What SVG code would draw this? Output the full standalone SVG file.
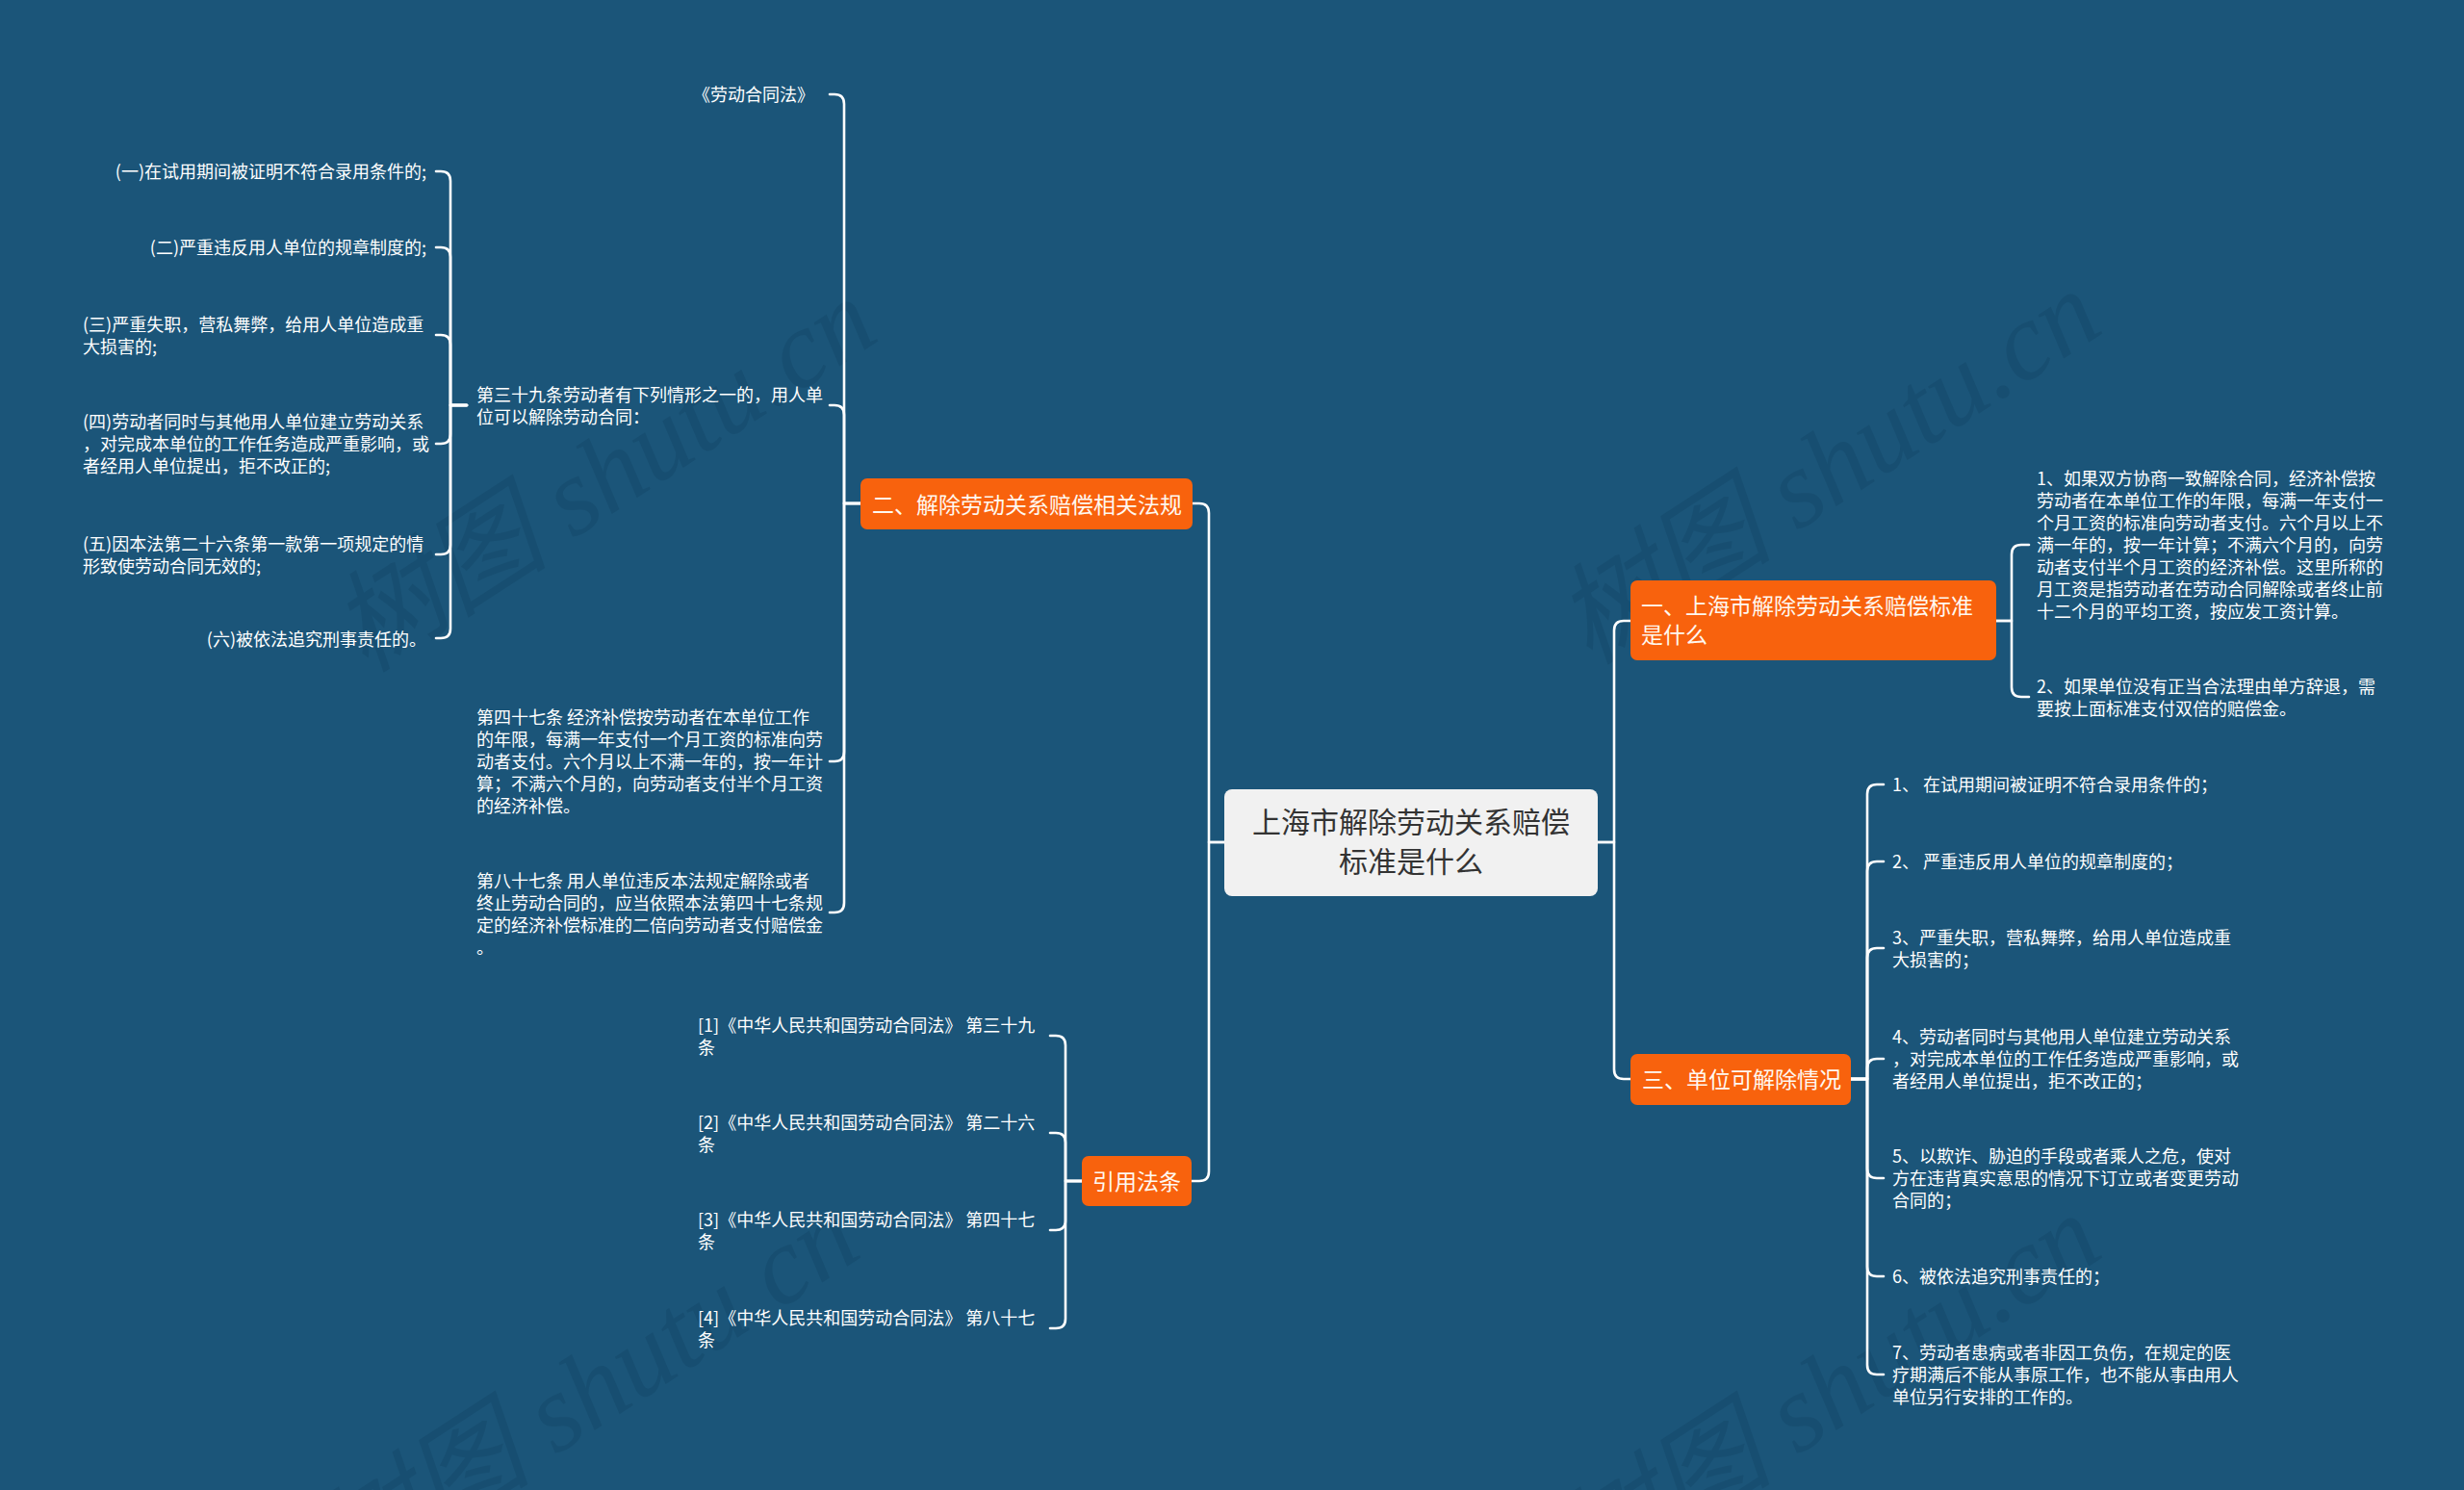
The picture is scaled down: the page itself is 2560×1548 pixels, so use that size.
<svg xmlns="http://www.w3.org/2000/svg" width="2560" height="1548" viewBox="0 0 2560 1548">
<style>
.bg{fill:#1b5579}
.wm{font-family:"Liberation Serif","Noto Sans CJK SC",serif;font-style:italic;font-size:114px;fill:#0a2a40;fill-opacity:0.15}
.conn{fill:none;stroke:#ffffff;stroke-width:2.6;stroke-linecap:round;stroke-linejoin:round}
.leaf{font-family:"Noto Sans CJK SC","Noto Sans",sans-serif;font-size:18px;fill:#ffffff}
.main rect{fill:#f8620d}
.main text{font-family:"Noto Sans CJK SC","Noto Sans",sans-serif;font-size:23px;fill:#fff8f0}
.root rect{fill:#f1f1f1}
.root text{font-family:"Noto Sans CJK SC","Noto Sans",sans-serif;font-size:30px;fill:#333333;text-anchor:middle}
</style>
<rect class="bg" x="0" y="0" width="2560" height="1548"/>
<g id="watermarks">
<text class="wm" transform="translate(380,700) rotate(-33)">树图 shutu.cn</text>
<text class="wm" transform="translate(1652,692) rotate(-33)">树图 shutu.cn</text>
<text class="wm" transform="translate(362,1652) rotate(-33)">树图 shutu.cn</text>
<text class="wm" transform="translate(1652,1652) rotate(-33)">树图 shutu.cn</text>
</g>
<g id="connectors">
<path class="conn" d="M1272,875 H1256 V533 Q1256,523 1246,523 H1239"/>
<path class="conn" d="M1272,875 H1256 V1217 Q1256,1227 1246,1227 H1238"/>
<path class="conn" d="M1660,875 H1677 V655 Q1677,645 1687,645 H1694"/>
<path class="conn" d="M1660,875 H1677 V1111 Q1677,1121 1687,1121 H1694"/>
<path class="conn" d="M894,523 H877 V108 Q877,98 867,98 H862"/>
<path class="conn" d="M894,523 H877 V431 Q877,421 867,421 H862"/>
<path class="conn" d="M894,523 H877 V781 Q877,791 867,791 H862"/>
<path class="conn" d="M894,523 H877 V938 Q877,948 867,948 H862"/>
<path class="conn" d="M485,421 H468 V188 Q468,178 458,178 H453"/>
<path class="conn" d="M485,421 H468 V267 Q468,257 458,257 H453"/>
<path class="conn" d="M485,421 H468 V358 Q468,348 458,348 H453"/>
<path class="conn" d="M485,421 H468 V451 Q468,461 458,461 H453"/>
<path class="conn" d="M485,421 H468 V566 Q468,576 458,576 H453"/>
<path class="conn" d="M485,421 H468 V653 Q468,663 458,663 H453"/>
<path class="conn" d="M2074,645 H2090 V576 Q2090,566 2100,566 H2108"/>
<path class="conn" d="M2074,645 H2090 V714 Q2090,724 2100,724 H2108"/>
<path class="conn" d="M1923,1121 H1940 V825 Q1940,815 1950,815 H1957"/>
<path class="conn" d="M1923,1121 H1940 V905 Q1940,895 1950,895 H1957"/>
<path class="conn" d="M1923,1121 H1940 V995 Q1940,985 1950,985 H1957"/>
<path class="conn" d="M1923,1121 H1940 V1110 Q1940,1100 1950,1100 H1957"/>
<path class="conn" d="M1923,1121 H1940 V1214 Q1940,1224 1950,1224 H1957"/>
<path class="conn" d="M1923,1121 H1940 V1316 Q1940,1326 1950,1326 H1957"/>
<path class="conn" d="M1923,1121 H1940 V1418 Q1940,1428 1950,1428 H1957"/>
<path class="conn" d="M1124,1227 H1107 V1086 Q1107,1076 1097,1076 H1091"/>
<path class="conn" d="M1124,1227 H1107 V1187 Q1107,1177 1097,1177 H1091"/>
<path class="conn" d="M1124,1227 H1107 V1268 Q1107,1278 1097,1278 H1091"/>
<path class="conn" d="M1124,1227 H1107 V1370 Q1107,1380 1097,1380 H1091"/>
</g>
<g id="root" class="root">
<rect x="1272" y="820" width="388" height="111" rx="8"/>
<text x="1466" y="865">上海市解除劳动关系赔偿</text>
<text x="1466" y="906">标准是什么</text>
</g>
<g id="n-2" class="main">
<rect x="894" y="497" width="345" height="53" rx="7"/>
<text x="906" y="533">二、解除劳动关系赔偿相关法规</text>
</g>
<g id="n-1" class="main">
<rect x="1694" y="603" width="380" height="83" rx="7"/>
<text x="1705" y="638">一、上海市解除劳动关系赔偿标准</text>
<text x="1705" y="668">是什么</text>
</g>
<g id="n-3" class="main">
<rect x="1694" y="1095" width="229" height="53" rx="7"/>
<text x="1706" y="1130">三、单位可解除情况</text>
</g>
<g id="n-cite" class="main">
<rect x="1124" y="1201" width="114" height="52" rx="7"/>
<text x="1181" y="1236" text-anchor="middle">引用法条</text>
</g>
<g id="n-2-1"><text class="leaf" x="846" y="105" text-anchor="end">《劳动合同法》</text></g>
<g id="n-2-2"><text class="leaf"><tspan x="495" y="417">第三十九条劳动者有下列情形之一的，用人单</tspan><tspan x="495" y="440">位可以解除劳动合同：</tspan></text></g>
<g id="n-2-3"><text class="leaf"><tspan x="495" y="752">第四十七条 经济补偿按劳动者在本单位工作</tspan><tspan x="495" y="775">的年限，每满一年支付一个月工资的标准向劳</tspan><tspan x="495" y="798">动者支付。六个月以上不满一年的，按一年计</tspan><tspan x="495" y="821">算；不满六个月的，向劳动者支付半个月工资</tspan><tspan x="495" y="844">的经济补偿。</tspan></text></g>
<g id="n-2-4"><text class="leaf"><tspan x="495" y="922">第八十七条 用人单位违反本法规定解除或者</tspan><tspan x="495" y="945">终止劳动合同的，应当依照本法第四十七条规</tspan><tspan x="495" y="968">定的经济补偿标准的二倍向劳动者支付赔偿金</tspan><tspan x="495" y="991">。</tspan></text></g>
<g id="n-39-1"><text class="leaf" x="443" y="185" text-anchor="end">(一)在试用期间被证明不符合录用条件的;</text></g>
<g id="n-39-2"><text class="leaf" x="443" y="264" text-anchor="end">(二)严重违反用人单位的规章制度的;</text></g>
<g id="n-39-3"><text class="leaf"><tspan x="86" y="344">(三)严重失职，营私舞弊，给用人单位造成重</tspan><tspan x="86" y="367">大损害的;</tspan></text></g>
<g id="n-39-4"><text class="leaf"><tspan x="86" y="445">(四)劳动者同时与其他用人单位建立劳动关系</tspan><tspan x="86" y="468">，对完成本单位的工作任务造成严重影响，或</tspan><tspan x="86" y="491">者经用人单位提出，拒不改正的;</tspan></text></g>
<g id="n-39-5"><text class="leaf"><tspan x="86" y="572">(五)因本法第二十六条第一款第一项规定的情</tspan><tspan x="86" y="595">形致使劳动合同无效的;</tspan></text></g>
<g id="n-39-6"><text class="leaf" x="443" y="671" text-anchor="end">(六)被依法追究刑事责任的。</text></g>
<g id="n-1-1"><text class="leaf"><tspan x="2116" y="504">1、如果双方协商一致解除合同，经济补偿按</tspan><tspan x="2116" y="527">劳动者在本单位工作的年限，每满一年支付一</tspan><tspan x="2116" y="550">个月工资的标准向劳动者支付。六个月以上不</tspan><tspan x="2116" y="573">满一年的，按一年计算；不满六个月的，向劳</tspan><tspan x="2116" y="596">动者支付半个月工资的经济补偿。这里所称的</tspan><tspan x="2116" y="619">月工资是指劳动者在劳动合同解除或者终止前</tspan><tspan x="2116" y="642">十二个月的平均工资，按应发工资计算。</tspan></text></g>
<g id="n-1-2"><text class="leaf"><tspan x="2116" y="720">2、如果单位没有正当合法理由单方辞退，需</tspan><tspan x="2116" y="743">要按上面标准支付双倍的赔偿金。</tspan></text></g>
<g id="n-3-1"><text class="leaf" x="1966" y="822">1、 在试用期间被证明不符合录用条件的；</text></g>
<g id="n-3-2"><text class="leaf" x="1966" y="902">2、 严重违反用人单位的规章制度的；</text></g>
<g id="n-3-3"><text class="leaf"><tspan x="1966" y="981">3、严重失职，营私舞弊，给用人单位造成重</tspan><tspan x="1966" y="1004">大损害的；</tspan></text></g>
<g id="n-3-4"><text class="leaf"><tspan x="1966" y="1084">4、劳动者同时与其他用人单位建立劳动关系</tspan><tspan x="1966" y="1107">，对完成本单位的工作任务造成严重影响，或</tspan><tspan x="1966" y="1130">者经用人单位提出，拒不改正的；</tspan></text></g>
<g id="n-3-5"><text class="leaf"><tspan x="1966" y="1208">5、以欺诈、胁迫的手段或者乘人之危，使对</tspan><tspan x="1966" y="1231">方在违背真实意思的情况下订立或者变更劳动</tspan><tspan x="1966" y="1254">合同的；</tspan></text></g>
<g id="n-3-6"><text class="leaf" x="1966" y="1333">6、被依法追究刑事责任的；</text></g>
<g id="n-3-7"><text class="leaf"><tspan x="1966" y="1412">7、劳动者患病或者非因工负伤，在规定的医</tspan><tspan x="1966" y="1435">疗期满后不能从事原工作，也不能从事由用人</tspan><tspan x="1966" y="1458">单位另行安排的工作的。</tspan></text></g>
<g id="n-c-1"><text class="leaf"><tspan x="725" y="1072">[1]《中华人民共和国劳动合同法》 第三十九</tspan><tspan x="725" y="1095">条</tspan></text></g>
<g id="n-c-2"><text class="leaf"><tspan x="725" y="1173">[2]《中华人民共和国劳动合同法》 第二十六</tspan><tspan x="725" y="1196">条</tspan></text></g>
<g id="n-c-3"><text class="leaf"><tspan x="725" y="1274">[3]《中华人民共和国劳动合同法》 第四十七</tspan><tspan x="725" y="1297">条</tspan></text></g>
<g id="n-c-4"><text class="leaf"><tspan x="725" y="1376">[4]《中华人民共和国劳动合同法》 第八十七</tspan><tspan x="725" y="1399">条</tspan></text></g>
</svg>
